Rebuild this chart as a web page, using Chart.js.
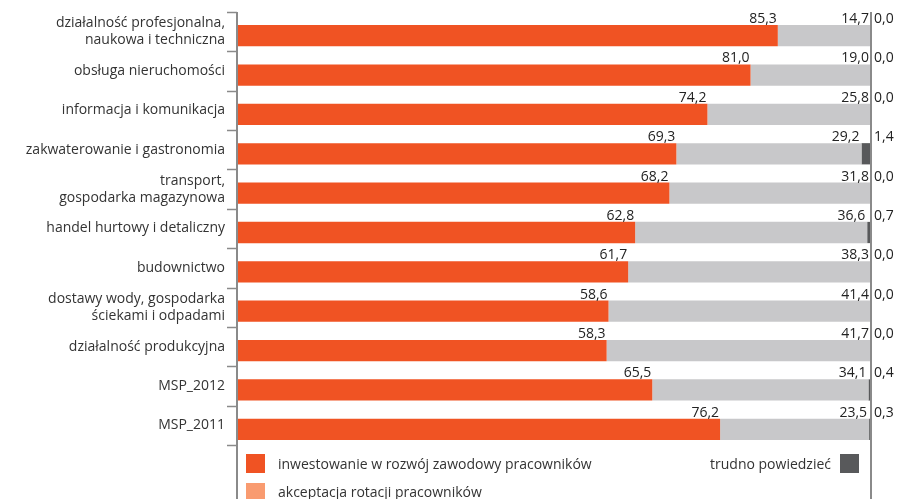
<!DOCTYPE html>
<html lang="pl">
<head>
<meta charset="utf-8">
<title>Inwestowanie w rozwój zawodowy pracowników</title>
<script src="https://cdn.jsdelivr.net/npm/chart.js@4"></script>
<style>
    html, body { margin: 0; padding: 0; background: #fff; }
    #wrap { position: relative; width: 910px; height: 499px; overflow: hidden; font-family: "Open Sans", sans-serif; }
    #chart { position: absolute; left: 0; top: 0; }
    .legend-item { position: absolute; font-size: 14px; color: #333; line-height: 19px; white-space: nowrap; }
    .swatch { position: absolute; width: 19px; height: 19px; }
</style>
</head>
<body>
<div id="wrap">
    <canvas id="chart" width="910" height="499"></canvas>
    <div class="swatch" style="left:246px; top:454px; background:#f05323"></div>
    <div class="legend-item" style="left:278px; top:454px">inwestowanie w rozwój zawodowy pracowników</div>
    <div class="swatch" style="left:246px; top:483px; background:#f99b70"></div>
    <div class="legend-item" style="left:278px; top:482px">akceptacja rotacji pracowników</div>
    <div class="legend-item" style="right:79px; top:454px">trudno powiedzieć</div>
    <div class="swatch" style="left:840px; top:454px; background:#58595b"></div>
</div>
<script>
// Sektory i wyniki (%)
const categories = [
    ['działalność profesjonalna,', 'naukowa i techniczna'],
    'obsługa nieruchomości',
    'informacja i komunikacja',
    'zakwaterowanie i gastronomia',
    ['transport,', 'gospodarka magazynowa'],
    'handel hurtowy i detaliczny',
    'budownictwo',
    ['dostawy wody, gospodarka', 'ściekami i odpadami'],
    'działalność produkcyjna',
    'MSP_2012',
    'MSP_2011'
];
const investing = [85.3, 81.0, 74.2, 69.3, 68.2, 62.8, 61.7, 58.6, 58.3, 65.5, 76.2];
const rotation = [14.7, 19.0, 25.8, 29.2, 31.8, 36.6, 38.3, 41.4, 41.7, 34.1, 23.5];
const hardToSay = [0.0, 0.0, 0.0, 1.4, 0.0, 0.7, 0.0, 0.0, 0.0, 0.4, 0.3];

const fmt = v => v.toFixed(1).replace('.', ',');

// axis lines, tick marks and value labels
const decorations = {
    id: 'decorations',
    afterDatasetsDraw(chart) {
        const ctx = chart.ctx;
        const area = chart.chartArea;
        const band = (area.bottom - area.top) / categories.length;

        ctx.save();
        ctx.strokeStyle = '#8a8a8a';
        ctx.lineWidth = 2;
        ctx.beginPath();
        ctx.moveTo(area.left, area.top - 4);
        ctx.lineTo(area.left, chart.height);
        ctx.moveTo(area.right, area.top - 4);
        ctx.lineTo(area.right, chart.height);
        ctx.stroke();

        ctx.lineWidth = 1.5;
        ctx.beginPath();
        for (let i = 0; i <= categories.length; i++) {
            const y = Math.round(area.top + i * band - 4) + 0.5;
            ctx.moveTo(area.left - 10, y);
            ctx.lineTo(area.left, y);
        }
        ctx.stroke();

        ctx.font = '14px "Open Sans", sans-serif';
        ctx.fillStyle = '#222';
        ctx.textBaseline = 'alphabetic';
        const m0 = chart.getDatasetMeta(0).data;
        const m1 = chart.getDatasetMeta(1).data;
        categories.forEach((c, i) => {
            const top = m0[i].y - m0[i].height / 2 - 2;
            ctx.textAlign = 'right';
            ctx.fillText(fmt(investing[i]), m0[i].x - 1, top);
            ctx.fillText(fmt(rotation[i]), m1[i].x - 2, top);
            ctx.textAlign = 'left';
            ctx.fillText(fmt(hardToSay[i]), area.right + 3, top);
        });
        ctx.restore();
    }
};

const ctx = document.getElementById('chart').getContext('2d');
const chart = new Chart(ctx, {
    type: 'bar',
    data: {
        labels: categories,
        datasets: [{
            label: 'inwestowanie w rozwój zawodowy pracowników',
            data: investing,
            backgroundColor: '#f05323'
        }, {
            label: 'akceptacja rotacji pracowników',
            data: rotation,
            backgroundColor: '#c8c8ca'
        }, {
            label: 'trudno powiedzieć',
            data: hardToSay,
            backgroundColor: '#58595b'
        }]
    },
    options: {
        indexAxis: 'y',
        responsive: false,
        animation: false,
        layout: { padding: { top: 16, right: 39, bottom: 50, left: 0 } },
        datasets: { bar: { categoryPercentage: 1, barPercentage: 0.54, borderWidth: 0 } },
        plugins: { legend: { display: false }, tooltip: { enabled: false } },
        scales: {
            x: { stacked: true, min: 0, max: 100, display: false },
            y: {
                stacked: true,
                border: { display: false },
                grid: { display: false },
                afterFit(scale) {
                    scale.width = 237;
                    scale.paddingTop = 0;
                    scale.paddingBottom = 0;
                },
                ticks: {
                    color: '#333',
                    padding: 4,
                    labelOffset: -4,
                    font: { family: '"Open Sans", sans-serif', size: 14, lineHeight: 1.2 }
                }
            }
        }
    },
    plugins: [decorations]
});
</script>
</body>
</html>
